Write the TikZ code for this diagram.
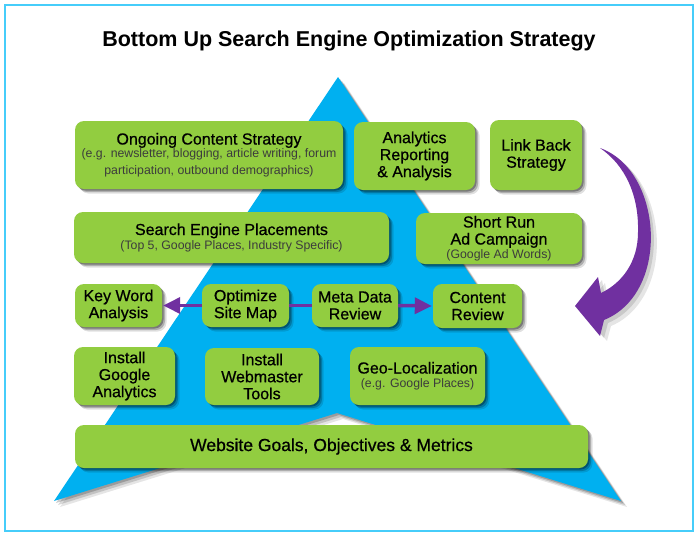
\documentclass[tikz,border=0pt]{standalone}
\usepackage{fontspec}
\setmainfont{Liberation Sans}
\newfontfamily\boxfont{Liberation Sans}[FakeBold=0.6]
\usetikzlibrary{shadows,arrows.meta}
\definecolor{boxgreen}{RGB}{146,205,64}
\definecolor{triblue}{RGB}{0,176,240}
\definecolor{arrpurple}{RGB}{112,48,160}
\definecolor{framecol}{RGB}{70,205,250}
\definecolor{subgray}{RGB}{60,60,60}
\newcommand\bxm{\boxfont\fontsize{16}{17}\selectfont}
\newcommand\bxs{\normalfont\fontsize{12.3}{13.5}\selectfont\color{subgray}}
\begin{document}
\begin{tikzpicture}[x=1pt,y=-1pt,
  softshadow/.style={
    drop shadow={shadow xshift=1.5pt, shadow yshift=-1.5pt, opacity=0.3, fill=black},
    drop shadow={shadow xshift=3pt, shadow yshift=-3pt, opacity=0.22, fill=black},
    drop shadow={shadow xshift=4.5pt, shadow yshift=-4.5pt, opacity=0.12, fill=black}},
  box/.style={fill=boxgreen, rounded corners=9pt, inner sep=0pt, align=center, font=\bxm, softshadow},
  link/.style={draw=arrpurple, line width=3.5pt},
  tip/.style={-{Triangle[length=17pt,width=16pt]}, shorten >=1pt}
  ]
\useasboundingbox (0,0) rectangle (698,536);
\fill[white] (0,0) rectangle (698,536);
\draw[framecol, line width=2pt] (5,5) rectangle (693,531);

\node[font=\fontsize{21.5}{24}\selectfont\bfseries] (title) at (349,41) {Bottom Up Search Engine Optimization Strategy};

% pyramid
\fill[triblue,
  drop shadow={shadow xshift=2pt, shadow yshift=-2pt, opacity=0.2, fill=black},
  drop shadow={shadow xshift=4pt, shadow yshift=-4pt, opacity=0.15, fill=black},
  drop shadow={shadow xshift=6pt, shadow yshift=-6pt, opacity=0.1, fill=black}]
  (338,77) -- (621,501) -- (337,413) -- (54,501) -- cycle;

% curved arrow (shadow + arrow)
\fill[black, opacity=0.12] (604,151) .. controls (642,165) and (658,215) .. (653,255) .. controls (649,288) and (632,313) .. (608,323) -- (604,338) -- (579,309) -- (602,280) -- (605,296) .. controls (626,286) and (642,265) .. (643,235) .. controls (644,198) and (629,168) .. (604,151) -- cycle;
\fill[black, opacity=0.1] (607,154) .. controls (645,168) and (661,218) .. (656,258) .. controls (652,291) and (635,316) .. (611,326) -- (607,341) -- (582,312) -- (605,283) -- (608,299) .. controls (629,289) and (645,268) .. (646,238) .. controls (647,201) and (632,171) .. (607,154) -- cycle;
\fill[arrpurple] (600,148) .. controls (639,162) and (655,212) .. (650,252) .. controls (646,285) and (629,310) .. (604,320) -- (600,336) -- (575,306) -- (598,277) -- (601,293) .. controls (622,283) and (638,262) .. (638,232) .. controls (639,195) and (625,165) .. (600,148) -- cycle;

% boxes
\node[box, minimum width=268pt, minimum height=68pt] (ongoing) at (209,155)
  {Ongoing Content Strategy\\[-4pt]\bxs (e.g. newsletter, blogging, article writing, forum\\\bxs participation, outbound demographics)};
\node[box, minimum width=121pt, minimum height=68pt] (analytics) at (414.5,156)
  {Analytics\\Reporting\\\&~Analysis};
\node[box, minimum width=92pt, minimum height=70pt] (linkback) at (536,155)
  {Link Back\\Strategy};
\node[box, minimum width=315pt, minimum height=51pt] (placements) at (231.5,237.5)
  {Search Engine Placements\\[-3pt]\bxs (Top 5, Google Places, Industry Specific)};
\node[box, minimum width=166pt, minimum height=51pt] (adcamp) at (499,238.5)
  {Short Run\\Ad Campaign\\[-3pt]\bxs (Google Ad Words)};
\node[box, minimum width=87pt, minimum height=43pt] (keyword) at (118.5,305.5)
  {Key Word\\Analysis};
\node[box, minimum width=87pt, minimum height=43pt] (sitemap) at (245.5,305.5)
  {Optimize\\Site Map};
\node[box, minimum width=86pt, minimum height=43pt] (meta) at (355,305.5)
  {Meta Data\\Review};
\node[box, minimum width=89pt, minimum height=44pt] (content) at (477.5,306)
  {Content\\Review};
\node[box, minimum width=101pt, minimum height=58pt] (ganalytics) at (124.5,376)
  {Install\\Google\\Analytics};
\node[box, minimum width=114pt, minimum height=57pt] (webmaster) at (262,376.5)
  {Install\\Webmaster\\Tools};
\node[box, minimum width=135pt, minimum height=58pt] (geo) at (417.5,376)
  {Geo-Localization\\[-3pt]\bxs (e.g. Google Places)};
\node[box, minimum width=513pt, minimum height=43pt, font=\boxfont\fontsize{17.5}{20}\selectfont] (goals) at (331.5,446.5)
  {Website Goals, Objectives \& Metrics};

% connectors
\draw[link, tip] (sitemap.west) -- (keyword.east);
\draw[link] (sitemap.east) -- (meta.west);
\draw[link, tip] (meta.east) -- (content.west);
\end{tikzpicture}
\end{document}
